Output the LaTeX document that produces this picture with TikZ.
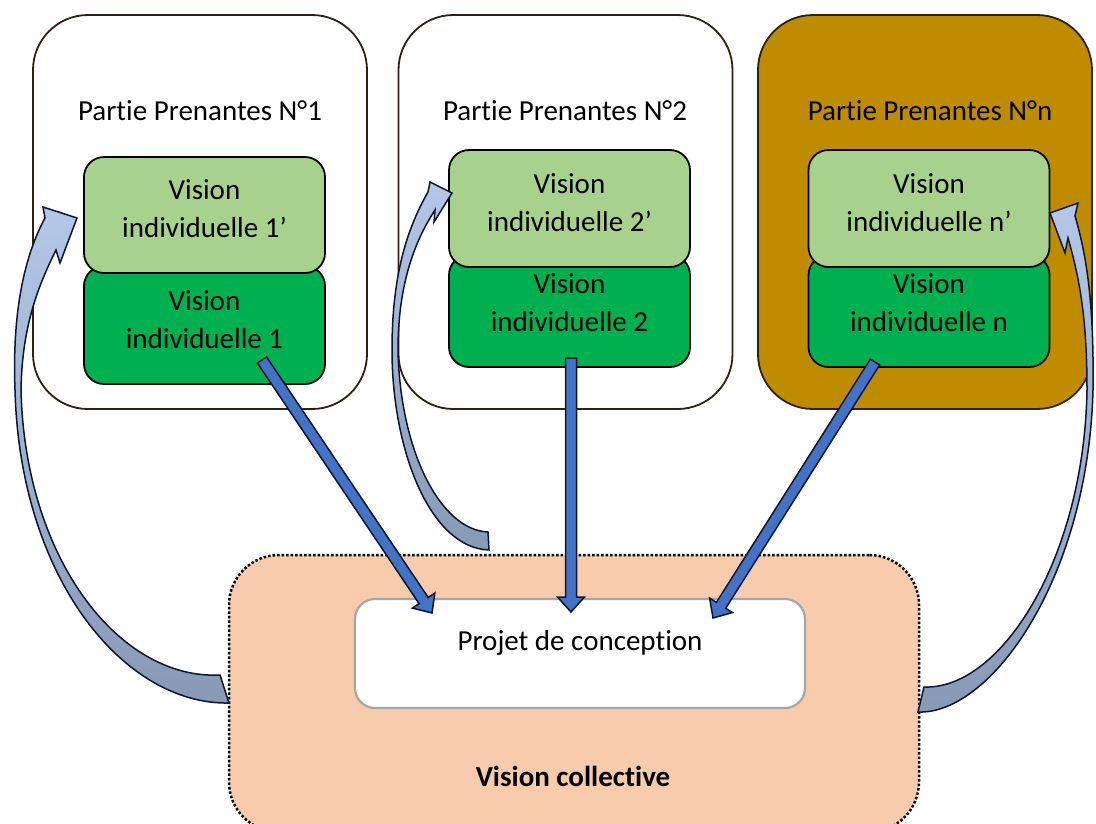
\documentclass[tikz,border=0pt]{standalone}
\usepackage{fontspec}
\setmainfont{Carlito}[Ligatures={NoCommon,NoRare,NoContextual}, RawFeature=-clig]
\usetikzlibrary{calc}
\definecolor{goldbox}{HTML}{BF8C00}
\definecolor{boxline}{HTML}{2B2210}
\definecolor{lightgreen}{HTML}{A9D18E}
\definecolor{darkgreen}{HTML}{00B050}
\definecolor{peach}{HTML}{F8CBAD}
\definecolor{projline}{HTML}{A6A6A6}
\definecolor{arrowblue}{HTML}{4472C4}
\definecolor{navyline}{HTML}{0B1530}
\definecolor{curvetop}{HTML}{B4C7E7}
\definecolor{curvebot}{HTML}{8799B5}
\tikzset{
  txt/.style={font=\fontsize{29}{38}\selectfont, align=center},
  ppbox/.style={draw=boxline, line width=1.8pt, rounded corners=55pt, minimum width=334pt, minimum height=394pt},
  visbox/.style={txt, draw=black, line width=1.8pt, rounded corners=20pt, minimum width=241pt, inner sep=0pt},
  blockarrow/.style={draw=navyline, line width=1.5pt, line join=miter, fill=arrowblue,
    to path={let \p1=(\tikztostart), \p2=(\tikztotarget), \n1={atan2(\y2-\y1,\x2-\x1)} in
      ($(\p1)+(\n1+90:5.5pt)$)
      -- ($(\p2)+(\n1+180:15pt)+(\n1+90:5.5pt)$)
      -- ($(\p2)+(\n1+180:15pt)+(\n1+90:13.5pt)$)
      -- (\p2)
      -- ($(\p2)+(\n1+180:15pt)+(\n1-90:13.5pt)$)
      -- ($(\p2)+(\n1+180:15pt)+(\n1-90:5.5pt)$)
      -- ($(\p1)+(\n1-90:5.5pt)$) -- cycle}},
  curvearrow/.style={draw=navyline, line width=1.5pt, line join=miter, top color=curvetop, bottom color=curvebot}
}
\begin{document}
\begin{tikzpicture}[x=1pt,y=-1pt]
\useasboundingbox (0,0) rectangle (1096,823);
\clip (0,0) rectangle (1096,823);

% stakeholder boxes
\node[ppbox, fill=white] (pp1) at (200,212) {};
\node[ppbox, fill=white] (pp2) at (565.5,212) {};
\node[ppbox, fill=goldbox] (ppn) at (925,212) {};
\node[txt] (t1) at (200,111) {Partie Prenantes N°1};
\node[txt] (t2) at (565,111) {Partie Prenantes N°2};
\node[txt] (tn) at (930,111) {Partie Prenantes N°n};

% individual visions
\node[visbox, fill=darkgreen, minimum height=118pt, text depth=10pt] (d1) at (204.5,325) {Vision\\individuelle 1};
\node[visbox, fill=lightgreen, minimum height=116pt, text depth=12pt] (l1) at (204.5,215) {Vision\\individuelle 1’};
\node[visbox, fill=darkgreen, minimum height=112pt, text depth=16pt] (d2) at (569.5,311) {Vision\\individuelle 2};
\node[visbox, fill=lightgreen, minimum height=117pt, text depth=12pt] (l2) at (569.5,208.5) {Vision\\individuelle 2’};
\node[visbox, fill=darkgreen, minimum height=112pt, text depth=16pt] (dn) at (929,311) {Vision\\individuelle n};
\node[visbox, fill=lightgreen, minimum height=117pt, text depth=12pt] (ln) at (929,208.5) {Vision\\individuelle n’};

% collective vision
\node[draw=black, dotted, line width=2.5pt, fill=peach, rounded corners=50pt, minimum width=690pt, minimum height=277pt] (coll) at (574,693.5) {};
\node[txt, font=\fontsize{29}{38}\selectfont\bfseries] (collt) at (573,776) {Vision collective};
\node[draw=projline, line width=2.2pt, fill=white, rounded corners=20pt, minimum width=450pt, minimum height=109pt] (proj) at (580,653.5) {};
\node[txt] (projt) at (580,643) {Projet de conception};

% curved feedback arrows
\path[curvearrow] (229,703) .. controls (125,705) and (20,580) .. (15,390)
  .. controls (12,310) and (25,255) .. (45,218)
  -- (43,207) -- (77,218) -- (60,263) -- (56,250)
  .. controls (36,290) and (22,330) .. (21,390)
  .. controls (25,560) and (120,680) .. (220,675) -- cycle;
\path[curvearrow] (489,550) .. controls (430,548) and (392,450) .. (392,350)
  .. controls (392,280) and (405,232) .. (428,192)
  -- (430,182) -- (452,193) -- (434,222) -- (435,210)
  .. controls (412,245) and (398,290) .. (398,350)
  .. controls (400,450) and (440,530) .. (488,532) -- cycle;
\path[curvearrow] (918,712) .. controls (990,715) and (1088,580) .. (1093,390)
  .. controls (1094,310) and (1088,260) .. (1075,216)
  -- (1078,203) -- (1050,213) -- (1065,253) -- (1068,238)
  .. controls (1080,280) and (1087,320) .. (1087,390)
  .. controls (1084,560) and (1000,690) .. (924,687) -- cycle;

% block arrows
\coordinate (s1) at (262,360);
\coordinate (e1) at (432,613);
\coordinate (s2) at (571,358);
\coordinate (e2) at (571,612);
\coordinate (sn) at (875,362);
\coordinate (en) at (713,618);
\draw[blockarrow] (s1) to (e1);
\draw[blockarrow] (s2) to (e2);
\draw[blockarrow] (sn) to (en);
\end{tikzpicture}
\end{document}
